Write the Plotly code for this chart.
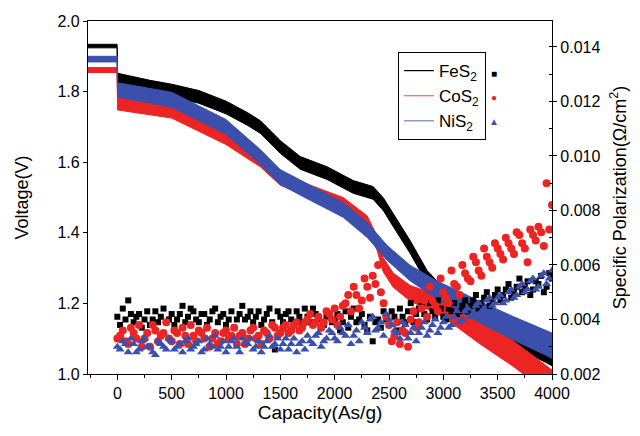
import plotly.graph_objects as go

# ---------------- Voltage curves (left axis) ----------------
cap_fes2 = [-270, -2, 2, 100, 300, 500, 750, 1000, 1200, 1315, 1400, 1500, 1683, 1800, 1931,
            2170, 2354, 2450, 2538, 2694, 2851, 2970, 3100, 3338, 3641, 3954, 4000]
v_fes2 = [1.929, 1.929, 1.835, 1.828, 1.815, 1.803, 1.785, 1.755, 1.722, 1.700, 1.675, 1.643, 1.598,
          1.584, 1.569, 1.530, 1.513, 1.480, 1.436, 1.360, 1.275, 1.238, 1.205, 1.153, 1.096, 1.048, 1.040]
noise_fes2 = [0.005, 0.005, 0.017, 0.017, 0.017, 0.018, 0.018, 0.018, 0.018, 0.018, 0.018, 0.018, 0.018,
              0.018, 0.018, 0.018, 0.018, 0.018, 0.018, 0.018, 0.018, 0.016, 0.016, 0.016, 0.017, 0.017, 0.017]

cap_cos2 = [-270, -2, 2, 100, 500, 1000, 1315, 1499, 1775, 2078, 2299, 2391, 2446, 2538, 2694,
            2998, 3338, 3641, 3850, 4000]
v_cos2 = [1.861, 1.861, 1.768, 1.763, 1.745, 1.670, 1.605, 1.553, 1.517, 1.482, 1.430, 1.370, 1.310,
          1.266, 1.229, 1.190, 1.120, 1.058, 1.010, 0.975]
noise_cos2 = [0.007, 0.007, 0.020, 0.020, 0.020, 0.020, 0.018, 0.018, 0.018, 0.018, 0.018, 0.020, 0.020,
              0.020, 0.022, 0.028, 0.035, 0.036, 0.036, 0.036]

cap_nis2 = [-270, -2, 2, 100, 500, 1000, 1315, 1499, 1775, 2078, 2299, 2483, 2694, 2943, 3154,
            3338, 3641, 3954, 4000]
v_nis2 = [1.892, 1.892, 1.805, 1.800, 1.777, 1.700, 1.615, 1.558, 1.513, 1.465, 1.408, 1.343, 1.286,
          1.238, 1.205, 1.175, 1.130, 1.088, 1.080]
noise_nis2 = [0.008, 0.008, 0.020, 0.020, 0.021, 0.021, 0.021, 0.021, 0.021, 0.021, 0.021, 0.021, 0.022,
              0.025, 0.028, 0.030, 0.033, 0.036, 0.036]

# ---------------- Specific polarization (right axis) ----------------
cap_pol_a = [0, 50, 100, 150, 200, 250, 300, 350, 400, 450, 500, 550, 600, 650, 700, 750, 800, 850, 900, 950,
             1000, 1050, 1100, 1150, 1200, 1250, 1300, 1350, 1400, 1450, 1500, 1550, 1600, 1650, 1700, 1750,
             1800, 1850, 1900, 1950, 2000, 2050, 2100, 2150, 2200, 2250, 2300, 2350, 2400, 2450, 2500, 2550,
             2600, 2650, 2700, 2750, 2800, 2850, 2900, 2950, 3000, 3050, 3100, 3150, 3200, 3250, 3300, 3350,
             3400, 3450, 3500, 3550, 3600, 3650, 3700, 3750, 3800, 3850, 3900, 3950, 4000]
cap_pol_b = [25, 75, 125, 175, 225, 275, 325, 375, 425, 475, 525, 575, 625, 675, 725, 775, 825, 875, 925, 975,
             1025, 1075, 1125, 1175, 1225, 1275, 1325, 1375, 1425, 1475, 1525, 1575, 1625, 1675, 1725, 1775,
             1825, 1875, 1925, 1975, 2025, 2075, 2125, 2175, 2225, 2275, 2325, 2375, 2425, 2475, 2525, 2575,
             2625, 2675, 2725, 2775, 2825, 2875, 2925, 2975, 3025, 3075, 3125, 3175, 3225, 3275, 3325, 3375,
             3425, 3475, 3525, 3575, 3625, 3675, 3725, 3775, 3825, 3875, 3925, 3975]

p_fes2_a = [0.0041, 0.0044, 0.0047, 0.0039, 0.0042, 0.0040, 0.0038, 0.0043, 0.0041, 0.0039,
            0.0042, 0.0040, 0.0045, 0.0041, 0.0043, 0.0039, 0.0042, 0.0040, 0.0044, 0.0041,
            0.0038, 0.0043, 0.0040, 0.0045, 0.0041, 0.0039, 0.0043, 0.0040, 0.0044, 0.0029,
            0.0041, 0.0042, 0.0040, 0.0043, 0.0039, 0.0041, 0.0044, 0.0040, 0.0038, 0.0042,
            0.0040, 0.0036, 0.0043, 0.0041, 0.0039, 0.0042, 0.0036, 0.0032, 0.0040, 0.0043,
            0.0038, 0.0041, 0.0044, 0.0039, 0.0046, 0.0042, 0.0045, 0.0040, 0.0043, 0.0047,
            0.0041, 0.0044, 0.0046, 0.0043, 0.0047, 0.0045, 0.0049, 0.0046, 0.0050, 0.0047,
            0.0051, 0.0049, 0.0053, 0.0050, 0.0055, 0.0052, 0.0049, 0.0054, 0.0056, 0.0052, 0.0055]
p_fes2_b = [0.0038, 0.0040, 0.0042, 0.0041, 0.0037, 0.0043, 0.0040, 0.0039, 0.0044, 0.0040,
            0.0038, 0.0042, 0.0039, 0.0044, 0.0040, 0.0042, 0.0038, 0.0043, 0.0039, 0.0042,
            0.0040, 0.0037, 0.0042, 0.0040, 0.0043, 0.0041, 0.0038, 0.0042, 0.0039, 0.0043,
            0.0039, 0.0043, 0.0038, 0.0041, 0.0044, 0.0039, 0.0042, 0.0037, 0.0041, 0.0039,
            0.0042, 0.0039, 0.0037, 0.0044, 0.0040, 0.0038, 0.0041, 0.0039, 0.0037, 0.0040,
            0.0043, 0.0036, 0.0041, 0.0043, 0.0039, 0.0044, 0.0042, 0.0046, 0.0041, 0.0044,
            0.0040, 0.0043, 0.0042, 0.0045, 0.0043, 0.0047, 0.0044, 0.0048, 0.0045, 0.0049,
            0.0047, 0.0051, 0.0048, 0.0052, 0.0050, 0.0054, 0.0051, 0.0053, 0.0050, 0.0057]

p_cos2_a = [0.0033, 0.0036, 0.0031, 0.0035, 0.0038, 0.0033, 0.0030, 0.0036, 0.0034, 0.0039,
            0.0032, 0.0035, 0.0037, 0.0031, 0.0034, 0.0036, 0.0033, 0.0030, 0.0035, 0.0032,
            0.0036, 0.0034, 0.0031, 0.0035, 0.0033, 0.0037, 0.0034, 0.0036, 0.0033, 0.0037,
            0.0035, 0.0038, 0.0036, 0.0039, 0.0037, 0.0040, 0.0038, 0.0041, 0.0039, 0.0042,
            0.0044, 0.0041, 0.0046, 0.0043, 0.0049, 0.0047, 0.0052, 0.0056, 0.0060, 0.0046,
            0.0038, 0.0034, 0.0031, 0.0035, 0.0040, 0.0037, 0.0044, 0.0041, 0.0047, 0.0043,
            0.0050, 0.0046, 0.0053, 0.0049, 0.0057, 0.0054, 0.0061, 0.0056, 0.0063, 0.0059,
            0.0066, 0.0062, 0.0068, 0.0064, 0.0071, 0.0066, 0.0073, 0.0069, 0.0072, 0.0090, 0.0082]
p_cos2_b = [0.0034, 0.0032, 0.0037, 0.0033, 0.0030, 0.0035, 0.0038, 0.0032, 0.0035, 0.0033,
            0.0036, 0.0031, 0.0034, 0.0038, 0.0032, 0.0035, 0.0037, 0.0033, 0.0031, 0.0035,
            0.0033, 0.0037, 0.0034, 0.0031, 0.0036, 0.0033, 0.0031, 0.0035, 0.0038, 0.0034,
            0.0037, 0.0035, 0.0038, 0.0036, 0.0039, 0.0042, 0.0039, 0.0037, 0.0043, 0.0040,
            0.0038, 0.0045, 0.0049, 0.0052, 0.0044, 0.0055, 0.0048, 0.0053, 0.0050, 0.0041,
            0.0032, 0.0039, 0.0036, 0.0030, 0.0043, 0.0039, 0.0047, 0.0052, 0.0045, 0.0055,
            0.0048, 0.0058, 0.0052, 0.0060, 0.0055, 0.0063, 0.0058, 0.0066, 0.0061, 0.0068,
            0.0064, 0.0070, 0.0066, 0.0072, 0.0068, 0.0061, 0.0071, 0.0074, 0.0067, 0.0073]

p_nis2_a = [0.0030, 0.0032, 0.0028, 0.0031, 0.0029, 0.0033, 0.0030, 0.0027, 0.0031, 0.0029,
            0.0032, 0.0030, 0.0028, 0.0033, 0.0030, 0.0032, 0.0029, 0.0031, 0.0034, 0.0030,
            0.0028, 0.0032, 0.0030, 0.0033, 0.0031, 0.0029, 0.0032, 0.0030, 0.0034, 0.0031,
            0.0029, 0.0033, 0.0031, 0.0028, 0.0032, 0.0034, 0.0031, 0.0035, 0.0032, 0.0036,
            0.0033, 0.0037, 0.0034, 0.0031, 0.0036, 0.0039, 0.0035, 0.0041, 0.0037, 0.0034,
            0.0040, 0.0036, 0.0033, 0.0038, 0.0035, 0.0032, 0.0037, 0.0034, 0.0038, 0.0035,
            0.0039, 0.0037, 0.0041, 0.0039, 0.0043, 0.0041, 0.0045, 0.0043, 0.0047, 0.0045,
            0.0048, 0.0046, 0.0050, 0.0048, 0.0052, 0.0050, 0.0054, 0.0051, 0.0056, 0.0053, 0.0058]
p_nis2_b = [0.0029, 0.0031, 0.0033, 0.0028, 0.0032, 0.0030, 0.0028, 0.0032, 0.0030, 0.0033,
            0.0029, 0.0031, 0.0032, 0.0029, 0.0031, 0.0028, 0.0033, 0.0030, 0.0029, 0.0032,
            0.0030, 0.0033, 0.0028, 0.0031, 0.0033, 0.0030, 0.0028, 0.0032, 0.0030, 0.0033,
            0.0031, 0.0029, 0.0033, 0.0031, 0.0029, 0.0032, 0.0034, 0.0030, 0.0033, 0.0035,
            0.0032, 0.0035, 0.0038, 0.0034, 0.0032, 0.0037, 0.0040, 0.0036, 0.0039, 0.0042,
            0.0038, 0.0035, 0.0039, 0.0033, 0.0037, 0.0035, 0.0039, 0.0036, 0.0040, 0.0037,
            0.0041, 0.0038, 0.0043, 0.0040, 0.0044, 0.0042, 0.0046, 0.0044, 0.0048, 0.0046,
            0.0049, 0.0047, 0.0051, 0.0049, 0.0053, 0.0051, 0.0055, 0.0052, 0.0057, 0.0055]

series_names = ["FeS<sub>2</sub>", "CoS<sub>2</sub>", "NiS<sub>2</sub>"]

BLACK = "#000000"
RED = "#ec2424"
BLUE = "#3a50ac"
FONT = "Arial, Liberation Sans, sans-serif"

fig = go.Figure()


def band(xs, vs, ns, color):
    upper = [v + n for v, n in zip(vs, ns)]
    lower = [v - n for v, n in zip(vs, ns)]
    fig.add_trace(go.Scatter(
        x=list(xs) + list(xs[::-1]), y=upper + lower[::-1],
        mode="lines", fill="toself", fillcolor=color,
        line=dict(color=color, width=1), showlegend=False, hoverinfo="skip"))


band(cap_fes2, v_fes2, noise_fes2, BLACK)
band(cap_cos2, v_cos2, noise_cos2, RED)
band(cap_nis2, v_nis2, noise_nis2, BLUE)

fig.add_trace(go.Scatter(x=cap_pol_a + cap_pol_b, y=p_fes2_a + p_fes2_b, yaxis="y2", mode="markers",
                         marker=dict(symbol="square", size=6, color=BLACK), showlegend=False))
fig.add_trace(go.Scatter(x=cap_pol_a + cap_pol_b, y=p_cos2_a + p_cos2_b, yaxis="y2", mode="markers",
                         marker=dict(symbol="circle", size=8, color=RED), showlegend=False))
fig.add_trace(go.Scatter(x=cap_pol_a + cap_pol_b, y=p_nis2_a + p_nis2_b, yaxis="y2", mode="markers",
                         marker=dict(symbol="triangle-up", size=8, color=BLUE), showlegend=False))

# legend entries (line samples)
for name, col in zip(series_names, [BLACK, "#f0696b", "#6f80c4"]):
    fig.add_trace(go.Scatter(x=[None], y=[None], mode="lines", name=name,
                             line=dict(color=col, width=1.2)))

# marker glyphs shown to the right of the legend box
for i, (sym, col) in enumerate(zip(["■", "●", "▲"], [BLACK, RED, BLUE])):
    fig.add_annotation(xref="paper", yref="paper", x=0.875, y=0.85 - i * 0.068,
                       text=sym, showarrow=False, font=dict(size=10, color=col, family=FONT),
                       xanchor="center", yanchor="middle")

fig.update_layout(
    width=632, height=428,
    margin=dict(l=80, r=88, t=13, b=62),
    paper_bgcolor="white", plot_bgcolor="white",
    font=dict(family=FONT, size=16, color="black"),
    showlegend=True,
    legend=dict(x=0.668, y=0.912, xanchor="left", yanchor="top",
                bordercolor="black", borderwidth=1, bgcolor="white",
                font=dict(size=17, family=FONT), tracegroupgap=0),
    xaxis=dict(range=[-270, 4000], tickvals=[0, 500, 1000, 1500, 2000, 2500, 3000, 3500, 4000],
               ticks="outside", ticklen=5, tickcolor="black", showline=True, linecolor="black",
               linewidth=1.2, mirror=True, showgrid=False, zeroline=False, automargin=False,
               minor=dict(dtick=250, tick0=0, ticks="outside", ticklen=3, tickcolor="black"),
               title=dict(text="Capacity(As/g)", font=dict(size=19), standoff=0),
               tickfont=dict(size=16)),
    yaxis=dict(range=[1.0, 2.0], tickvals=[1.0, 1.2, 1.4, 1.6, 1.8, 2.0], tickformat=".1f",
               ticks="outside", ticklen=4, tickcolor="black", showline=True, linecolor="black",
               linewidth=1.2, showgrid=False, zeroline=False, automargin=False,
               title=dict(text="Voltage(V)", font=dict(size=18), standoff=24),
               tickfont=dict(size=16)),
    yaxis2=dict(range=[0.002, 0.01495], overlaying="y", side="right",
                tickvals=[0.002, 0.004, 0.006, 0.008, 0.010, 0.012, 0.014], tickformat=".3f",
                ticks="outside", ticklen=4, tickcolor="black", showline=True, linecolor="black",
                linewidth=1.2, showgrid=False, zeroline=False, automargin=False,
                minor=dict(dtick=0.001, tick0=0.002, ticks="inside", ticklen=3, tickcolor="black"),
                title=dict(text="Specific Polarization(Ω/cm<sup>2</sup>)", font=dict(size=18), standoff=13),
                tickfont=dict(size=16)),
)

fig.write_html("out.html")
